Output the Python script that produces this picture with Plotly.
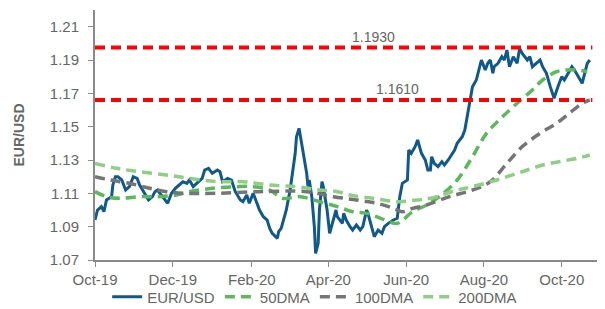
import plotly.graph_objects as go

# ---------------- data ----------------
eur_dates = [
    "2019-10-01","2019-10-03","2019-10-06","2019-10-08","2019-10-10","2019-10-14","2019-10-15","2019-10-17",
    "2019-10-19","2019-10-22","2019-10-25","2019-10-28","2019-10-31","2019-11-03","2019-11-05","2019-11-09",
    "2019-11-12","2019-11-15","2019-11-17","2019-11-19","2019-11-23","2019-11-25","2019-11-27","2019-11-30",
    "2019-12-03","2019-12-06","2019-12-09","2019-12-12","2019-12-14","2019-12-17","2019-12-20","2019-12-24",
    "2019-12-26","2019-12-29","2020-01-01","2020-01-05","2020-01-07","2020-01-09","2020-01-13","2020-01-16",
    "2020-01-19","2020-01-23","2020-01-25","2020-01-28","2020-01-30","2020-02-02","2020-02-05","2020-02-07",
    "2020-02-10","2020-02-13","2020-02-15","2020-02-17","2020-02-21","2020-02-22","2020-02-24","2020-02-25",
    "2020-02-28","2020-03-02","2020-03-04","2020-03-06","2020-03-07","2020-03-09","2020-03-11","2020-03-13",
    "2020-03-15","2020-03-16","2020-03-17","2020-03-19","2020-03-21","2020-03-22","2020-03-24","2020-03-25",
    "2020-03-27","2020-03-28","2020-03-31","2020-04-02","2020-04-05","2020-04-07","2020-04-08","2020-04-12",
    "2020-04-13","2020-04-15","2020-04-18","2020-04-20","2020-04-23","2020-04-26","2020-04-28","2020-05-01",
    "2020-05-02","2020-05-05","2020-05-07","2020-05-10","2020-05-13","2020-05-15","2020-05-18","2020-05-22",
    "2020-05-25","2020-05-27","2020-05-29","2020-06-02","2020-06-03","2020-06-05","2020-06-08","2020-06-10",
    "2020-06-13","2020-06-16","2020-06-18","2020-06-20","2020-06-21","2020-06-23","2020-06-26","2020-06-29",
    "2020-07-01","2020-07-04","2020-07-07","2020-07-09","2020-07-11","2020-07-15","2020-07-17","2020-07-19",
    "2020-07-21","2020-07-23","2020-07-26","2020-07-29","2020-07-30","2020-08-02","2020-08-04","2020-08-06",
    "2020-08-08","2020-08-09","2020-08-12","2020-08-15","2020-08-17","2020-08-19","2020-08-21","2020-08-24",
    "2020-08-27","2020-08-29","2020-08-31","2020-09-04","2020-09-06","2020-09-08","2020-09-11","2020-09-14",
    "2020-09-16","2020-09-19","2020-09-22","2020-09-24","2020-09-25","2020-09-28","2020-10-01","2020-10-03",
    "2020-10-06","2020-10-09","2020-10-11","2020-10-14","2020-10-17","2020-10-19","2020-10-21","2020-10-23",
]
eur_usd = [
    1.094,1.100,1.102,1.099,1.106,1.108,1.115,1.120,
    1.120,1.118,1.112,1.114,1.120,1.119,1.115,1.110,
    1.106,1.108,1.111,1.112,1.108,1.106,1.104,1.110,
    1.113,1.115,1.117,1.116,1.118,1.114,1.116,1.119,
    1.124,1.125,1.122,1.124,1.123,1.117,1.119,1.118,
    1.111,1.106,1.105,1.109,1.104,1.110,1.104,1.100,
    1.096,1.094,1.089,1.086,1.083,1.087,1.089,1.092,
    1.100,1.112,1.122,1.134,1.144,1.149,1.140,1.132,
    1.122,1.114,1.118,1.108,1.090,1.074,1.080,1.100,
    1.117,1.114,1.100,1.086,1.094,1.100,1.096,1.092,
    1.098,1.094,1.090,1.088,1.091,1.088,1.090,1.100,
    1.098,1.090,1.084,1.088,1.086,1.090,1.092,1.094,
    1.095,1.108,1.116,1.118,1.136,1.134,1.138,1.142,
    1.134,1.130,1.124,1.124,1.132,1.128,1.126,1.129,
    1.127,1.130,1.134,1.136,1.140,1.144,1.148,1.156,
    1.164,1.174,1.178,1.186,1.190,1.184,1.188,1.190,
    1.182,1.186,1.188,1.192,1.190,1.196,1.186,1.192,
    1.188,1.197,1.194,1.190,1.192,1.186,1.188,1.190,
    1.186,1.182,1.174,1.170,1.167,1.174,1.180,1.178,
    1.182,1.186,1.184,1.180,1.176,1.182,1.188,1.190,
]

dma50_dates = ["2019-10-01","2019-10-10","2019-10-21","2019-11-05","2019-11-19","2019-12-04","2019-12-14",
               "2020-01-01","2020-01-20","2020-02-02","2020-02-15","2020-02-25","2020-03-10","2020-03-25",
               "2020-04-08","2020-04-20","2020-05-01","2020-05-12","2020-05-25","2020-06-06","2020-06-17",
               "2020-06-27","2020-07-11","2020-07-23","2020-08-03","2020-08-13","2020-08-24","2020-09-08",
               "2020-09-16","2020-09-27","2020-10-05","2020-10-13","2020-10-21"]
dma50 = [1.111,1.108,1.107,1.108,1.108,1.109,1.111,
         1.113,1.114,1.114,1.112,1.107,1.108,1.105,
         1.102,1.099,1.098,1.095,1.092,1.099,1.103,
         1.108,1.118,1.132,1.146,1.154,1.162,1.172,
         1.178,1.183,1.184,1.184,1.183]

dma100_dates = ["2019-10-01","2019-10-13","2019-10-28","2019-11-13","2019-11-26","2019-12-12","2020-01-05",
                "2020-02-07","2020-03-15","2020-04-05","2020-04-23","2020-05-09","2020-05-22","2020-05-29",
                "2020-06-06","2020-06-17","2020-07-05","2020-07-23","2020-08-06","2020-08-19","2020-08-31",
                "2020-09-14","2020-09-27","2020-10-07","2020-10-17","2020-10-23"]
dma100 = [1.120,1.118,1.116,1.113,1.111,1.110,1.110,
          1.111,1.111,1.108,1.106,1.104,1.101,1.099,
          1.101,1.103,1.108,1.112,1.117,1.128,1.138,
          1.146,1.152,1.158,1.164,1.166]

dma200_dates = ["2019-10-01","2019-10-18","2019-11-05","2019-11-26","2019-12-14","2020-01-05","2020-01-25",
                "2020-02-15","2020-03-07","2020-03-25","2020-04-08","2020-04-18","2020-05-06","2020-05-25",
                "2020-06-09","2020-06-20","2020-07-11","2020-07-23","2020-08-11","2020-08-27","2020-09-04",
                "2020-09-16","2020-09-29","2020-10-13","2020-10-23"]
dma200 = [1.128,1.125,1.123,1.121,1.119,1.117,1.117,
          1.115,1.114,1.112,1.111,1.109,1.107,1.105,
          1.106,1.107,1.112,1.114,1.118,1.122,1.124,
          1.127,1.129,1.131,1.133]

level_values = [1.1975, 1.166]
level_labels = ["1.1930", "1.1610"]
level_label_pos = [("2020-05-06", 1.2040), ("2020-05-25", 1.1725)]

y_ticks = [1.07, 1.09, 1.11, 1.13, 1.15, 1.17, 1.19, 1.21]

# ---------------- figure ----------------
FONT = "Liberation Sans, Arial, sans-serif"
GREY = "#666666"
AXIS = "#8a8a8a"
dash = "10px,6px"

fig = go.Figure()
fig.add_trace(go.Scatter(x=eur_dates, y=eur_usd, name="EUR/USD", mode="lines",
                         line=dict(color="#11598a", width=3)))
fig.add_trace(go.Scatter(x=dma50_dates, y=dma50, name="50DMA", mode="lines",
                         line=dict(color="#5cb85a", width=3.5, dash=dash, shape="spline")))
fig.add_trace(go.Scatter(x=dma100_dates, y=dma100, name="100DMA", mode="lines",
                         line=dict(color="#757575", width=3.5, dash=dash, shape="spline")))
fig.add_trace(go.Scatter(x=dma200_dates, y=dma200, name="200DMA", mode="lines",
                         line=dict(color="#8fcf85", width=3.5, dash=dash, shape="spline")))

for v in level_values:
    fig.add_shape(type="line", xref="x", yref="y", x0="2019-10-01", x1="2020-10-25",
                  y0=v, y1=v, line=dict(color="#ff0000", width=4, dash=dash))

for txt, (xd, yv) in zip(level_labels, level_label_pos):
    fig.add_annotation(x=xd, y=yv, text=txt, showarrow=False, xref="x", yref="y",
                       font=dict(family=FONT, size=14, color=GREY))

# the page body adds an 8px offset, so the figure is 8px smaller on each side
fig.update_layout(
    width=597, height=301,
    margin=dict(l=87, r=5, t=2, b=49, autoexpand=False),
    paper_bgcolor="white", plot_bgcolor="white",
    font=dict(family=FONT, size=15, color=GREY),
    showlegend=True,
    legend=dict(orientation="h", x=0.435, xanchor="center", y=-0.148, yanchor="middle",
                font=dict(family=FONT, size=15, color=GREY), itemwidth=30,
                bgcolor="rgba(0,0,0,0)"),
)
fig.update_xaxes(range=["2019-10-01", "2020-10-31"], tickformat="%b-%y", dtick="M2",
                 tick0="2019-10-01", ticks="outside", ticklen=5, tickcolor=AXIS,
                 showline=True, linecolor=AXIS, linewidth=2, showgrid=False, zeroline=False,
                 tickfont=dict(family=FONT, size=15, color=GREY))
fig.update_yaxes(range=[1.07, 1.22], tickvals=y_ticks, tickformat=".2f",
                 ticks="outside", ticklen=5, tickcolor=AXIS, ticklabelstandoff=6,
                 showline=True, linecolor=AXIS, linewidth=2,
                 showgrid=False, zeroline=False,
                 tickfont=dict(family=FONT, size=15, color=GREY),
                 title=dict(text="<b>EUR/USD</b>", font=dict(family=FONT, size=14, color=GREY), standoff=22))

fig.write_html("out.html")
